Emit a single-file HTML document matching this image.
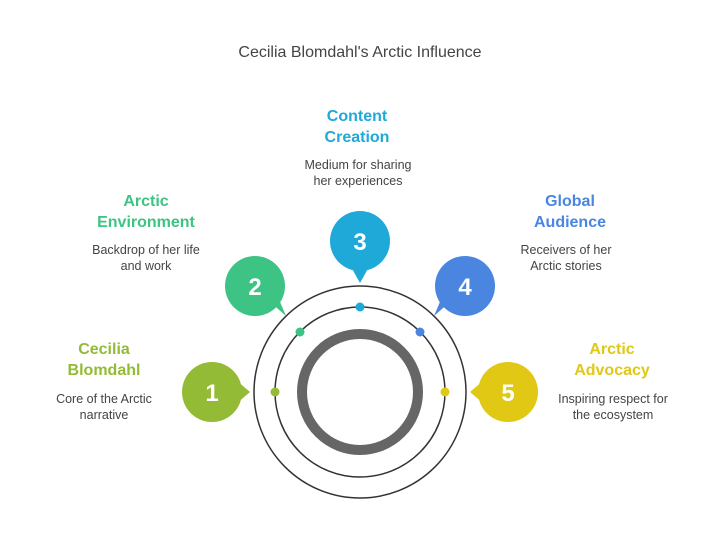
<!DOCTYPE html>
<html><head><meta charset="utf-8"><style>
html,body{margin:0;padding:0;background:#fff}
svg{display:block}
text{font-family:"Liberation Sans",sans-serif}
.t{font-weight:bold;font-size:16px;text-anchor:middle}
.d{font-size:12.5px;fill:#444;text-anchor:middle}
.n{font-weight:bold;font-size:24px;fill:#fff;text-anchor:middle}
</style></head><body>
<svg width="720" height="551" viewBox="0 0 720 551" xmlns="http://www.w3.org/2000/svg">
<text x="360" y="57" font-size="16" fill="#444" text-anchor="middle">Cecilia Blomdahl's Arctic Influence</text>
<circle cx="360" cy="392" r="106" fill="none" stroke="#333" stroke-width="1.5"/>
<circle cx="360" cy="392" r="85" fill="none" stroke="#333" stroke-width="1.5"/>
<circle cx="360" cy="392" r="58" fill="none" stroke="#666" stroke-width="10"/>
<g fill="#93bb35"><circle cx="212" cy="392" r="30"/><polygon points="236,380 250,392 236,404"/><circle cx="275" cy="392" r="4.5"/></g>
<g fill="#3dc383"><circle cx="255" cy="286" r="30"/><polygon points="268,300 286,316 275,290"/><circle cx="300" cy="332" r="4.5"/></g>
<g fill="#1fa9d9"><circle cx="360" cy="241" r="30"/><polygon points="350,265 360,283 370,265"/><circle cx="360" cy="307" r="4.5"/></g>
<g fill="#4a86e0"><circle cx="465" cy="286" r="30"/><polygon points="452,300 434,316 445,290"/><circle cx="420" cy="332" r="4.5"/></g>
<g fill="#e0c814"><circle cx="508" cy="392" r="30"/><polygon points="484,380 470,392 484,404"/><circle cx="445" cy="392" r="4.5"/></g>
<text class="n" x="212" y="401">1</text>
<text class="n" x="255" y="295">2</text>
<text class="n" x="360" y="250">3</text>
<text class="n" x="465" y="295">4</text>
<text class="n" x="508" y="401">5</text>
<text class="t" x="104" y="354" fill="#93bb35">Cecilia</text>
<text class="t" x="104" y="375" fill="#93bb35">Blomdahl</text>
<text class="d" x="104" y="403">Core of the Arctic</text>
<text class="d" x="104" y="419">narrative</text>
<text class="t" x="146" y="206" fill="#3dc383">Arctic</text>
<text class="t" x="146" y="227" fill="#3dc383">Environment</text>
<text class="d" x="146" y="254">Backdrop of her life</text>
<text class="d" x="146" y="270">and work</text>
<text class="t" x="357" y="121" fill="#1fa9d9">Content</text>
<text class="t" x="357" y="142" fill="#1fa9d9">Creation</text>
<text class="d" x="358" y="169">Medium for sharing</text>
<text class="d" x="358" y="185">her experiences</text>
<text class="t" x="570" y="206" fill="#4a86e0">Global</text>
<text class="t" x="570" y="227" fill="#4a86e0">Audience</text>
<text class="d" x="566" y="254">Receivers of her</text>
<text class="d" x="566" y="270">Arctic stories</text>
<text class="t" x="612" y="354" fill="#e0c814">Arctic</text>
<text class="t" x="612" y="375" fill="#e0c814">Advocacy</text>
<text class="d" x="613" y="403">Inspiring respect for</text>
<text class="d" x="613" y="419">the ecosystem</text>
</svg>
</body></html>
